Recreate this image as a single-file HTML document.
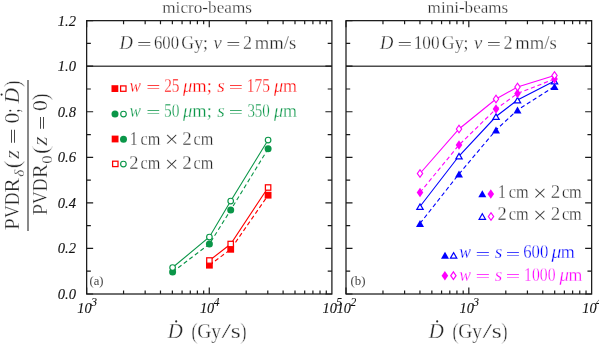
<!DOCTYPE html>
<html><head><meta charset="utf-8"><title>fig</title><style>html,body{margin:0;padding:0;background:#fff}svg{will-change:transform;filter:opacity(1)}</style></head><body>
<svg width="599" height="344" viewBox="0 0 599 344" style="display:block" font-family="'Liberation Serif', serif">
<rect width="599" height="344" fill="#fff"/>
<style>text.cm{stroke:#fff;stroke-width:0.28px;paint-order:fill stroke}text.tk{stroke:#111;stroke-width:0.1px}text.par{stroke:#fff;stroke-width:0.6px;paint-order:fill stroke}</style>
<line x1="86.65" y1="66.21" x2="331.9" y2="66.21" stroke="#4d4d4d" stroke-width="1.5"/>
<path d="M86.65 294.00h6.5M331.9 294.00h-6.5M86.65 271.22h4.2M331.9 271.22h-4.2M86.65 248.44h6.5M331.9 248.44h-6.5M86.65 225.66h4.2M331.9 225.66h-4.2M86.65 202.88h6.5M331.9 202.88h-6.5M86.65 180.10h4.2M331.9 180.10h-4.2M86.65 157.32h6.5M331.9 157.32h-6.5M86.65 134.55h4.2M331.9 134.55h-4.2M86.65 111.77h6.5M331.9 111.77h-6.5M86.65 88.99h4.2M331.9 88.99h-4.2M86.65 66.21h6.5M331.9 66.21h-6.5M86.65 43.43h4.2M331.9 43.43h-4.2M86.65 20.65h6.5M331.9 20.65h-6.5M86.65 20.65v6.5M86.65 294.0v-6.5M123.56 20.65v3.6M123.56 294.0v-3.6M145.16 20.65v3.6M145.16 294.0v-3.6M160.48 20.65v3.6M160.48 294.0v-3.6M172.36 20.65v3.6M172.36 294.0v-3.6M182.07 20.65v3.6M182.07 294.0v-3.6M190.28 20.65v3.6M190.28 294.0v-3.6M197.39 20.65v3.6M197.39 294.0v-3.6M203.66 20.65v3.6M203.66 294.0v-3.6M209.27 20.65v6.5M209.27 294.0v-6.5M246.19 20.65v3.6M246.19 294.0v-3.6M267.78 20.65v3.6M267.78 294.0v-3.6M283.10 20.65v3.6M283.10 294.0v-3.6M294.99 20.65v3.6M294.99 294.0v-3.6M304.70 20.65v3.6M304.70 294.0v-3.6M312.91 20.65v3.6M312.91 294.0v-3.6M320.02 20.65v3.6M320.02 294.0v-3.6M326.29 20.65v3.6M326.29 294.0v-3.6" stroke="#1a1a1a" stroke-width="1.2" fill="none"/>
<rect x="86.65" y="20.65" width="245.24999999999997" height="273.35" fill="none" stroke="#1a1a1a" stroke-width="1.25"/>
<line x1="346.0" y1="66.21" x2="591.65" y2="66.21" stroke="#4d4d4d" stroke-width="1.5"/>
<path d="M346.0 294.00h6.5M591.65 294.00h-6.5M346.0 271.22h4.2M591.65 271.22h-4.2M346.0 248.44h6.5M591.65 248.44h-6.5M346.0 225.66h4.2M591.65 225.66h-4.2M346.0 202.88h6.5M591.65 202.88h-6.5M346.0 180.10h4.2M591.65 180.10h-4.2M346.0 157.32h6.5M591.65 157.32h-6.5M346.0 134.55h4.2M591.65 134.55h-4.2M346.0 111.77h6.5M591.65 111.77h-6.5M346.0 88.99h4.2M591.65 88.99h-4.2M346.0 66.21h6.5M591.65 66.21h-6.5M346.0 43.43h4.2M591.65 43.43h-4.2M346.0 20.65h6.5M591.65 20.65h-6.5M346.00 20.65v6.5M346.00 294.0v-6.5M382.97 20.65v3.6M382.97 294.0v-3.6M404.60 20.65v3.6M404.60 294.0v-3.6M419.95 20.65v3.6M419.95 294.0v-3.6M431.85 20.65v3.6M431.85 294.0v-3.6M441.58 20.65v3.6M441.58 294.0v-3.6M449.80 20.65v3.6M449.80 294.0v-3.6M456.92 20.65v3.6M456.92 294.0v-3.6M463.20 20.65v3.6M463.20 294.0v-3.6M468.82 20.65v6.5M468.82 294.0v-6.5M505.80 20.65v3.6M505.80 294.0v-3.6M527.43 20.65v3.6M527.43 294.0v-3.6M542.77 20.65v3.6M542.77 294.0v-3.6M554.68 20.65v3.6M554.68 294.0v-3.6M564.40 20.65v3.6M564.40 294.0v-3.6M572.62 20.65v3.6M572.62 294.0v-3.6M579.75 20.65v3.6M579.75 294.0v-3.6M586.03 20.65v3.6M586.03 294.0v-3.6" stroke="#1a1a1a" stroke-width="1.2" fill="none"/>
<rect x="346.0" y="20.65" width="245.64999999999998" height="273.35" fill="none" stroke="#1a1a1a" stroke-width="1.25"/>
<polyline points="172.6,272 209.4,244 230.7,210 268.1,148.75" fill="none" stroke="#0a9648" stroke-width="1.1" stroke-dasharray="4.2 2.8"/>
<polyline points="172.6,267.5 209.4,237 230.7,201 268.1,140" fill="none" stroke="#0a9648" stroke-width="1.1"/>
<polyline points="209.4,265.2 230.7,249.3 268.1,195.2" fill="none" stroke="#ff0000" stroke-width="1.1" stroke-dasharray="4.2 2.8"/>
<polyline points="209.4,260.5 230.7,244 268.1,187.5" fill="none" stroke="#ff0000" stroke-width="1.1"/>
<circle cx="172.6" cy="272" r="3.5" fill="#0a9648"/>
<circle cx="209.4" cy="244" r="3.5" fill="#0a9648"/>
<circle cx="230.7" cy="210" r="3.5" fill="#0a9648"/>
<circle cx="268.1" cy="148.75" r="3.5" fill="#0a9648"/>
<circle cx="172.6" cy="267.5" r="2.8" fill="#fff" stroke="#0a9648" stroke-width="1.15"/>
<circle cx="209.4" cy="237" r="2.8" fill="#fff" stroke="#0a9648" stroke-width="1.15"/>
<circle cx="230.7" cy="201" r="2.8" fill="#fff" stroke="#0a9648" stroke-width="1.15"/>
<circle cx="268.1" cy="140" r="2.8" fill="#fff" stroke="#0a9648" stroke-width="1.15"/>
<rect x="206.00" y="261.80" width="6.8" height="6.8" fill="#ff0000"/>
<rect x="227.30" y="245.90" width="6.8" height="6.8" fill="#ff0000"/>
<rect x="264.70" y="191.80" width="6.8" height="6.8" fill="#ff0000"/>
<rect x="206.70" y="257.80" width="5.4" height="5.4" fill="#fff" stroke="#ff0000" stroke-width="1.25"/>
<rect x="228.00" y="241.30" width="5.4" height="5.4" fill="#fff" stroke="#ff0000" stroke-width="1.25"/>
<rect x="265.40" y="184.80" width="5.4" height="5.4" fill="#fff" stroke="#ff0000" stroke-width="1.25"/>
<polyline points="420,223.5 459,174 496,130 517.5,110 554.5,86.5" fill="none" stroke="#0000ff" stroke-width="1.1" stroke-dasharray="4.2 2.8"/>
<polyline points="420,206.5 459,156 496,116.5 517.5,100 554.5,81" fill="none" stroke="#0000ff" stroke-width="1.1"/>
<polyline points="420,192.5 459,145 496,109 517.5,93.5 554.5,79" fill="none" stroke="#ff00ff" stroke-width="1.1" stroke-dasharray="4.2 2.8"/>
<polyline points="420,173.5 459,129 496,99 517.5,87 554.5,75.5" fill="none" stroke="#ff00ff" stroke-width="1.1"/>
<path d="M416.00 227.00L424.00 227.00L420 220.00Z" fill="#0000ff"/>
<path d="M455.00 177.50L463.00 177.50L459 170.50Z" fill="#0000ff"/>
<path d="M492.00 133.50L500.00 133.50L496 126.50Z" fill="#0000ff"/>
<path d="M513.50 113.50L521.50 113.50L517.5 106.50Z" fill="#0000ff"/>
<path d="M550.50 90.00L558.50 90.00L554.5 83.00Z" fill="#0000ff"/>
<path d="M416.80 209.40L423.20 209.40L420 203.90Z" fill="#fff" stroke="#0000ff" stroke-width="1.2" stroke-linejoin="miter"/>
<path d="M455.80 158.90L462.20 158.90L459 153.40Z" fill="#fff" stroke="#0000ff" stroke-width="1.2" stroke-linejoin="miter"/>
<path d="M492.80 119.40L499.20 119.40L496 113.90Z" fill="#fff" stroke="#0000ff" stroke-width="1.2" stroke-linejoin="miter"/>
<path d="M514.30 102.90L520.70 102.90L517.5 97.40Z" fill="#fff" stroke="#0000ff" stroke-width="1.2" stroke-linejoin="miter"/>
<path d="M551.30 83.90L557.70 83.90L554.5 78.40Z" fill="#fff" stroke="#0000ff" stroke-width="1.2" stroke-linejoin="miter"/>
<path d="M416.70 192.5L420 187.80L423.30 192.5L420 197.20Z" fill="#ff00ff"/>
<path d="M455.70 145L459 140.30L462.30 145L459 149.70Z" fill="#ff00ff"/>
<path d="M492.70 109L496 104.30L499.30 109L496 113.70Z" fill="#ff00ff"/>
<path d="M514.20 93.5L517.5 88.80L520.80 93.5L517.5 98.20Z" fill="#ff00ff"/>
<path d="M551.20 79L554.5 74.30L557.80 79L554.5 83.70Z" fill="#ff00ff"/>
<path d="M417.35 173.5L420 169.70L422.65 173.5L420 177.30Z" fill="#fff" stroke="#ff00ff" stroke-width="1.2"/>
<path d="M456.35 129L459 125.20L461.65 129L459 132.80Z" fill="#fff" stroke="#ff00ff" stroke-width="1.2"/>
<path d="M493.35 99L496 95.20L498.65 99L496 102.80Z" fill="#fff" stroke="#ff00ff" stroke-width="1.2"/>
<path d="M514.85 87L517.5 83.20L520.15 87L517.5 90.80Z" fill="#fff" stroke="#ff00ff" stroke-width="1.2"/>
<path d="M551.85 75.5L554.5 71.70L557.15 75.5L554.5 79.30Z" fill="#fff" stroke="#ff00ff" stroke-width="1.2"/>
<g fill="#262626">
<text class="cm" x="162.24" y="12.50" font-size="16.50" textLength="89.78" lengthAdjust="spacingAndGlyphs">micro-beams</text>
</g>
<g fill="#262626">
<text class="cm" x="427.64" y="12.50" font-size="16.50" textLength="80.58" lengthAdjust="spacingAndGlyphs">mini-beams</text>
</g>
<g fill="#262626">
<text class="cm" x="119.41" y="48.80" font-size="18.00" textLength="13.37" lengthAdjust="spacingAndGlyphs" font-style="italic">D</text>
<text class="eq" x="137.12" y="49.20" font-size="14.04" textLength="14.54" lengthAdjust="spacingAndGlyphs">=</text>
<text class="cm" x="153.98" y="48.80" font-size="18.00" textLength="25.05" lengthAdjust="spacingAndGlyphs">600</text>
<text class="cm" x="181.37" y="48.80" font-size="18.00" textLength="26.59" lengthAdjust="spacingAndGlyphs">Gy;</text>
<text class="cm" x="213.45" y="48.80" font-size="18.00" textLength="8.25" lengthAdjust="spacingAndGlyphs" font-style="italic">v</text>
<text class="eq" x="226.25" y="49.20" font-size="14.04" textLength="14.18" lengthAdjust="spacingAndGlyphs">=</text>
<text class="cm" x="242.91" y="48.80" font-size="18.00" textLength="8.98" lengthAdjust="spacingAndGlyphs">2</text>
<text class="cm" x="254.71" y="48.80" font-size="18.00" textLength="41.47" lengthAdjust="spacingAndGlyphs">mm/s</text>
</g>
<g fill="#262626">
<text class="cm" x="379.91" y="48.80" font-size="18.00" textLength="13.37" lengthAdjust="spacingAndGlyphs" font-style="italic">D</text>
<text class="eq" x="397.62" y="49.20" font-size="14.04" textLength="14.54" lengthAdjust="spacingAndGlyphs">=</text>
<text class="cm" x="413.68" y="48.80" font-size="18.00" textLength="25.87" lengthAdjust="spacingAndGlyphs">100</text>
<text class="cm" x="441.87" y="48.80" font-size="18.00" textLength="26.59" lengthAdjust="spacingAndGlyphs">Gy;</text>
<text class="cm" x="473.95" y="48.80" font-size="18.00" textLength="8.25" lengthAdjust="spacingAndGlyphs" font-style="italic">v</text>
<text class="eq" x="486.75" y="49.20" font-size="14.04" textLength="14.18" lengthAdjust="spacingAndGlyphs">=</text>
<text class="cm" x="503.41" y="48.80" font-size="18.00" textLength="8.98" lengthAdjust="spacingAndGlyphs">2</text>
<text class="cm" x="515.21" y="48.80" font-size="18.00" textLength="41.47" lengthAdjust="spacingAndGlyphs">mm/s</text>
</g>
<rect x="111.50" y="85.20" width="6.8" height="6.8" fill="#ff0000"/>
<rect x="120.60" y="85.90" width="5.4" height="5.4" fill="#fff" stroke="#ff0000" stroke-width="1.25"/>
<g fill="#ff0000">
<text class="cm" x="129.59" y="92.00" font-size="18.00" textLength="11.44" lengthAdjust="spacingAndGlyphs" font-style="italic">w</text>
<text class="eq" x="146.35" y="92.40" font-size="14.04" textLength="14.18" lengthAdjust="spacingAndGlyphs">=</text>
<text class="cm" x="164.13" y="92.00" font-size="18.00" textLength="15.27" lengthAdjust="spacingAndGlyphs">25</text>
<text class="cm" x="183.12" y="92.00" font-size="18.00" textLength="9.30" lengthAdjust="spacingAndGlyphs" font-style="italic">μ</text>
<text class="cm" x="192.21" y="92.00" font-size="18.00" textLength="19.61" lengthAdjust="spacingAndGlyphs">m;</text>
<text class="cm" x="217.26" y="92.00" font-size="18.00" textLength="7.52" lengthAdjust="spacingAndGlyphs" font-style="italic">s</text>
<text class="eq" x="228.75" y="92.40" font-size="14.04" textLength="14.18" lengthAdjust="spacingAndGlyphs">=</text>
<text class="cm" x="246.74" y="92.00" font-size="18.00" textLength="23.16" lengthAdjust="spacingAndGlyphs">175</text>
<text class="cm" x="274.02" y="92.00" font-size="18.00" textLength="9.19" lengthAdjust="spacingAndGlyphs" font-style="italic">μ</text>
<text class="cm" x="283.12" y="92.00" font-size="18.00" textLength="13.96" lengthAdjust="spacingAndGlyphs">m</text>
</g>
<circle cx="115" cy="114.1" r="3.5" fill="#0a9648"/>
<circle cx="123.5" cy="114.1" r="2.8" fill="#fff" stroke="#0a9648" stroke-width="1.15"/>
<g fill="#0a9648">
<text class="cm" x="129.59" y="117.00" font-size="18.00" textLength="11.44" lengthAdjust="spacingAndGlyphs" font-style="italic">w</text>
<text class="eq" x="146.35" y="117.40" font-size="14.04" textLength="14.18" lengthAdjust="spacingAndGlyphs">=</text>
<text class="cm" x="163.90" y="117.00" font-size="18.00" textLength="15.49" lengthAdjust="spacingAndGlyphs">50</text>
<text class="cm" x="183.12" y="117.00" font-size="18.00" textLength="9.30" lengthAdjust="spacingAndGlyphs" font-style="italic">μ</text>
<text class="cm" x="192.21" y="117.00" font-size="18.00" textLength="19.61" lengthAdjust="spacingAndGlyphs">m;</text>
<text class="cm" x="217.26" y="117.00" font-size="18.00" textLength="7.52" lengthAdjust="spacingAndGlyphs" font-style="italic">s</text>
<text class="eq" x="228.75" y="117.40" font-size="14.04" textLength="14.18" lengthAdjust="spacingAndGlyphs">=</text>
<text class="cm" x="247.38" y="117.00" font-size="18.00" textLength="22.49" lengthAdjust="spacingAndGlyphs">350</text>
<text class="cm" x="274.02" y="117.00" font-size="18.00" textLength="9.19" lengthAdjust="spacingAndGlyphs" font-style="italic">μ</text>
<text class="cm" x="283.12" y="117.00" font-size="18.00" textLength="13.96" lengthAdjust="spacingAndGlyphs">m</text>
</g>
<rect x="111.70" y="135.60" width="6.8" height="6.8" fill="#ff0000"/>
<circle cx="123.5" cy="139.2" r="3.5" fill="#0a9648"/>
<g fill="#262626">
<text class="cm" x="129.70" y="144.50" font-size="18.00" textLength="7.95" lengthAdjust="spacingAndGlyphs">1</text>
<text class="cm" x="140.48" y="144.50" font-size="18.00" textLength="19.87" lengthAdjust="spacingAndGlyphs">cm</text>
<text class="cm" x="164.76" y="147.47" font-size="23.40" textLength="13.87" lengthAdjust="spacingAndGlyphs">×</text>
<text class="cm" x="182.37" y="144.50" font-size="18.00" textLength="9.48" lengthAdjust="spacingAndGlyphs">2</text>
<text class="cm" x="193.58" y="144.50" font-size="18.00" textLength="19.87" lengthAdjust="spacingAndGlyphs">cm</text>
</g>
<rect x="112.60" y="161.20" width="5.4" height="5.4" fill="#fff" stroke="#ff0000" stroke-width="1.25"/>
<circle cx="123.4" cy="164" r="2.8" fill="#fff" stroke="#0a9648" stroke-width="1.15"/>
<g fill="#262626">
<text class="cm" x="129.29" y="169.00" font-size="18.00" textLength="9.23" lengthAdjust="spacingAndGlyphs">2</text>
<text class="cm" x="140.48" y="169.00" font-size="18.00" textLength="19.87" lengthAdjust="spacingAndGlyphs">cm</text>
<text class="cm" x="164.76" y="171.97" font-size="23.40" textLength="13.87" lengthAdjust="spacingAndGlyphs">×</text>
<text class="cm" x="182.37" y="169.00" font-size="18.00" textLength="9.48" lengthAdjust="spacingAndGlyphs">2</text>
<text class="cm" x="193.58" y="169.00" font-size="18.00" textLength="19.87" lengthAdjust="spacingAndGlyphs">cm</text>
</g>
<path d="M478.30 197.20L486.30 197.20L482.3 190.20Z" fill="#0000ff"/>
<path d="M487.50 194L490.8 189.30L494.10 194L490.8 198.70Z" fill="#ff00ff"/>
<g fill="#262626">
<text class="cm" x="498.00" y="198.00" font-size="18.00" textLength="7.95" lengthAdjust="spacingAndGlyphs">1</text>
<text class="cm" x="508.78" y="198.00" font-size="18.00" textLength="19.87" lengthAdjust="spacingAndGlyphs">cm</text>
<text class="cm" x="533.06" y="200.97" font-size="23.40" textLength="13.87" lengthAdjust="spacingAndGlyphs">×</text>
<text class="cm" x="550.67" y="198.00" font-size="18.00" textLength="9.48" lengthAdjust="spacingAndGlyphs">2</text>
<text class="cm" x="561.88" y="198.00" font-size="18.00" textLength="19.87" lengthAdjust="spacingAndGlyphs">cm</text>
</g>
<path d="M479.10 219.30L485.50 219.30L482.3 213.80Z" fill="#fff" stroke="#0000ff" stroke-width="1.2" stroke-linejoin="miter"/>
<path d="M488.35 216.5L491 212.70L493.65 216.5L491 220.30Z" fill="#fff" stroke="#ff00ff" stroke-width="1.2"/>
<g fill="#262626">
<text class="cm" x="497.59" y="220.20" font-size="18.00" textLength="9.23" lengthAdjust="spacingAndGlyphs">2</text>
<text class="cm" x="508.78" y="220.20" font-size="18.00" textLength="19.87" lengthAdjust="spacingAndGlyphs">cm</text>
<text class="cm" x="533.06" y="223.17" font-size="23.40" textLength="13.87" lengthAdjust="spacingAndGlyphs">×</text>
<text class="cm" x="550.67" y="220.20" font-size="18.00" textLength="9.48" lengthAdjust="spacingAndGlyphs">2</text>
<text class="cm" x="561.88" y="220.20" font-size="18.00" textLength="19.87" lengthAdjust="spacingAndGlyphs">cm</text>
</g>
<path d="M441.00 258.70L449.00 258.70L445 251.70Z" fill="#0000ff"/>
<path d="M450.40 258.10L456.80 258.10L453.6 252.60Z" fill="#fff" stroke="#0000ff" stroke-width="1.2" stroke-linejoin="miter"/>
<g fill="#0000ff">
<text class="cm" x="459.28" y="258.40" font-size="18.00" textLength="11.75" lengthAdjust="spacingAndGlyphs" font-style="italic">w</text>
<text class="eq" x="475.40" y="258.80" font-size="14.04" textLength="14.66" lengthAdjust="spacingAndGlyphs">=</text>
<text class="cm" x="494.86" y="258.40" font-size="18.00" textLength="7.52" lengthAdjust="spacingAndGlyphs" font-style="italic">s</text>
<text class="eq" x="505.83" y="258.80" font-size="14.04" textLength="14.42" lengthAdjust="spacingAndGlyphs">=</text>
<text class="cm" x="523.28" y="258.40" font-size="18.00" textLength="25.05" lengthAdjust="spacingAndGlyphs">600</text>
<text class="cm" x="551.62" y="258.40" font-size="18.00" textLength="9.83" lengthAdjust="spacingAndGlyphs" font-style="italic">μ</text>
<text class="cm" x="560.72" y="258.40" font-size="18.00" textLength="14.06" lengthAdjust="spacingAndGlyphs">m</text>
</g>
<path d="M441.60 275.7L444.9 271.00L448.20 275.7L444.9 280.40Z" fill="#ff00ff"/>
<path d="M450.75 275.7L453.4 271.90L456.05 275.7L453.4 279.50Z" fill="#fff" stroke="#ff00ff" stroke-width="1.2"/>
<g fill="#ff00ff">
<text class="cm" x="459.28" y="280.60" font-size="18.00" textLength="11.75" lengthAdjust="spacingAndGlyphs" font-style="italic">w</text>
<text class="eq" x="475.40" y="281.00" font-size="14.04" textLength="14.66" lengthAdjust="spacingAndGlyphs">=</text>
<text class="cm" x="494.86" y="280.60" font-size="18.00" textLength="7.52" lengthAdjust="spacingAndGlyphs" font-style="italic">s</text>
<text class="eq" x="505.83" y="281.00" font-size="14.04" textLength="14.42" lengthAdjust="spacingAndGlyphs">=</text>
<text class="cm" x="524.02" y="280.60" font-size="18.00" textLength="31.48" lengthAdjust="spacingAndGlyphs">1000</text>
<text class="cm" x="559.42" y="280.60" font-size="18.00" textLength="9.51" lengthAdjust="spacingAndGlyphs" font-style="italic">μ</text>
<text class="cm" x="568.43" y="280.60" font-size="18.00" textLength="13.85" lengthAdjust="spacingAndGlyphs">m</text>
</g>
<text class="cm" x="89.50" y="285" font-size="12.3" fill="#444" textLength="14.00" lengthAdjust="spacingAndGlyphs" xml:space="preserve" style="stroke:none">(a)</text>
<text class="cm" x="350.50" y="285" font-size="12.3" fill="#444" textLength="15.00" lengthAdjust="spacingAndGlyphs" xml:space="preserve" style="stroke:none">(b)</text>
<text class="tk" x="76" y="298.90" font-size="14.6" font-style="italic" fill="#111" text-anchor="end">0.0</text>
<text class="tk" x="76" y="253.34" font-size="14.6" font-style="italic" fill="#111" text-anchor="end">0.2</text>
<text class="tk" x="76" y="207.78" font-size="14.6" font-style="italic" fill="#111" text-anchor="end">0.4</text>
<text class="tk" x="76" y="162.22" font-size="14.6" font-style="italic" fill="#111" text-anchor="end">0.6</text>
<text class="tk" x="76" y="116.67" font-size="14.6" font-style="italic" fill="#111" text-anchor="end">0.8</text>
<text class="tk" x="76" y="71.11" font-size="14.6" font-style="italic" fill="#111" text-anchor="end">1.0</text>
<text class="tk" x="76" y="25.55" font-size="14.6" font-style="italic" fill="#111" text-anchor="end">1.2</text>
<text class="tk" x="77.34" y="313.1" font-size="15" font-style="italic" fill="#111" textLength="14.29" lengthAdjust="spacingAndGlyphs">10</text>
<text class="tk" x="91.17" y="305.5" font-size="11.5" font-style="italic" fill="#111">3</text>
<text class="tk" x="199.97" y="313.1" font-size="15" font-style="italic" fill="#111" textLength="14.29" lengthAdjust="spacingAndGlyphs">10</text>
<text class="tk" x="213.75" y="305.5" font-size="11.5" font-style="italic" fill="#111">4</text>
<text class="tk" x="322.59" y="313.1" font-size="15" font-style="italic" fill="#111" textLength="14.29" lengthAdjust="spacingAndGlyphs">10</text>
<text class="tk" x="336.22" y="305.5" font-size="11.5" font-style="italic" fill="#111">5</text>
<text class="tk" x="336.69" y="313.1" font-size="15" font-style="italic" fill="#111" textLength="14.29" lengthAdjust="spacingAndGlyphs">10</text>
<text class="tk" x="350.49" y="305.5" font-size="11.5" font-style="italic" fill="#111">2</text>
<text class="tk" x="459.52" y="313.1" font-size="15" font-style="italic" fill="#111" textLength="14.29" lengthAdjust="spacingAndGlyphs">10</text>
<text class="tk" x="473.34" y="305.5" font-size="11.5" font-style="italic" fill="#111">3</text>
<text class="tk" x="582.34" y="313.1" font-size="15" font-style="italic" fill="#111" textLength="14.29" lengthAdjust="spacingAndGlyphs">10</text>
<text class="tk" x="596.12" y="305.5" font-size="11.5" font-style="italic" fill="#111">4</text>
<g fill="#262626">
<text class="cm" x="167.73" y="338.00" font-size="20.00" textLength="15.08" lengthAdjust="spacingAndGlyphs" font-style="italic">D</text>
<text class="cm" x="197.20" y="338.00" font-size="20.00" textLength="23.88" lengthAdjust="spacingAndGlyphs">Gy</text>
<text class="cm" x="221.40" y="338.00" font-size="20.00" textLength="9.60" lengthAdjust="spacingAndGlyphs">/</text>
<text class="cm" x="230.75" y="338.00" font-size="20.00" textLength="9.98" lengthAdjust="spacingAndGlyphs">s</text>
</g>
<g fill="#262626">
<text class="par" x="191.14" y="338.80" font-size="23.50" textLength="6.48" lengthAdjust="spacingAndGlyphs">(</text>
<text class="par" x="240.37" y="338.80" font-size="23.50" textLength="6.48" lengthAdjust="spacingAndGlyphs">)</text>
</g>
<circle cx="176.2" cy="321.4" r="1.05" fill="#262626"/>
<g fill="#262626">
<text class="cm" x="428.73" y="338.00" font-size="20.00" textLength="15.08" lengthAdjust="spacingAndGlyphs" font-style="italic">D</text>
<text class="cm" x="458.20" y="338.00" font-size="20.00" textLength="23.88" lengthAdjust="spacingAndGlyphs">Gy</text>
<text class="cm" x="482.40" y="338.00" font-size="20.00" textLength="9.60" lengthAdjust="spacingAndGlyphs">/</text>
<text class="cm" x="491.75" y="338.00" font-size="20.00" textLength="9.98" lengthAdjust="spacingAndGlyphs">s</text>
</g>
<g fill="#262626">
<text class="par" x="452.14" y="338.80" font-size="23.50" textLength="6.48" lengthAdjust="spacingAndGlyphs">(</text>
<text class="par" x="501.37" y="338.80" font-size="23.50" textLength="6.48" lengthAdjust="spacingAndGlyphs">)</text>
</g>
<circle cx="437.2" cy="321.4" r="1.05" fill="#262626"/>
<line x1="28" y1="80" x2="28" y2="231" stroke="#4a4a4a" stroke-width="1.3"/>
<text class="cm" transform="translate(19.00,230.11) rotate(-90)" font-size="20.50" fill="#262626" textLength="11.87" lengthAdjust="spacingAndGlyphs">P</text>
<text class="cm" transform="translate(19.00,218.10) rotate(-90)" font-size="20.50" fill="#262626" textLength="12.69" lengthAdjust="spacingAndGlyphs">V</text>
<text class="cm" transform="translate(19.00,205.31) rotate(-90)" font-size="20.50" fill="#262626" textLength="12.82" lengthAdjust="spacingAndGlyphs">D</text>
<text class="cm" transform="translate(19.00,192.62) rotate(-90)" font-size="20.50" fill="#262626" textLength="14.25" lengthAdjust="spacingAndGlyphs">R</text>
<text class="cm" transform="translate(24.00,176.64) rotate(-90)" font-size="15.00" fill="#262626" textLength="7.04" lengthAdjust="spacingAndGlyphs" font-style="italic">δ</text>
<text class="par" transform="translate(19.80,168.61) rotate(-90)" font-size="23.50" fill="#262626" textLength="8.43" lengthAdjust="spacingAndGlyphs">(</text>
<text class="cm" transform="translate(19.00,158.75) rotate(-90)" font-size="20.50" fill="#262626" textLength="8.54" lengthAdjust="spacingAndGlyphs" font-style="italic">z</text>
<text class="eq" transform="translate(19.45,144.07) rotate(-90)" font-size="15.99" fill="#262626" textLength="15.51" lengthAdjust="spacingAndGlyphs">=</text>
<text class="cm" transform="translate(19.00,123.53) rotate(-90)" font-size="20.50" fill="#262626" textLength="10.85" lengthAdjust="spacingAndGlyphs">0</text>
<text class="cm" transform="translate(19.00,112.80) rotate(-90)" font-size="20.50" fill="#262626" textLength="4.28" lengthAdjust="spacingAndGlyphs">;</text>
<text class="cm" transform="translate(19.00,103.36) rotate(-90)" font-size="20.50" fill="#262626" textLength="15.28" lengthAdjust="spacingAndGlyphs" font-style="italic">D</text>
<text class="par" transform="translate(19.80,87.18) rotate(-90)" font-size="23.50" fill="#262626" textLength="7.00" lengthAdjust="spacingAndGlyphs">)</text>
<circle cx="1.6" cy="94.6" r="1.05" fill="#262626"/>
<text class="cm" transform="translate(47.40,215.29) rotate(-90)" font-size="20.50" fill="#262626" textLength="11.30" lengthAdjust="spacingAndGlyphs">P</text>
<text class="cm" transform="translate(47.40,204.00) rotate(-90)" font-size="20.50" fill="#262626" textLength="12.69" lengthAdjust="spacingAndGlyphs">V</text>
<text class="cm" transform="translate(47.40,191.21) rotate(-90)" font-size="20.50" fill="#262626" textLength="12.82" lengthAdjust="spacingAndGlyphs">D</text>
<text class="cm" transform="translate(47.40,178.31) rotate(-90)" font-size="20.50" fill="#262626" textLength="14.14" lengthAdjust="spacingAndGlyphs">R</text>
<text class="cm" transform="translate(51.90,163.63) rotate(-90)" font-size="14.00" fill="#262626" textLength="8.26" lengthAdjust="spacingAndGlyphs">0</text>
<text class="par" transform="translate(48.20,154.23) rotate(-90)" font-size="23.50" fill="#262626" textLength="8.56" lengthAdjust="spacingAndGlyphs">(</text>
<text class="cm" transform="translate(47.40,145.54) rotate(-90)" font-size="20.50" fill="#262626" textLength="8.94" lengthAdjust="spacingAndGlyphs" font-style="italic">z</text>
<text class="eq" transform="translate(47.85,129.95) rotate(-90)" font-size="15.99" fill="#262626" textLength="14.18" lengthAdjust="spacingAndGlyphs">=</text>
<text class="cm" transform="translate(47.40,111.03) rotate(-90)" font-size="20.50" fill="#262626" textLength="10.85" lengthAdjust="spacingAndGlyphs">0</text>
<text class="par" transform="translate(48.20,100.73) rotate(-90)" font-size="23.50" fill="#262626" textLength="7.52" lengthAdjust="spacingAndGlyphs">)</text>
</svg>
</body></html>
